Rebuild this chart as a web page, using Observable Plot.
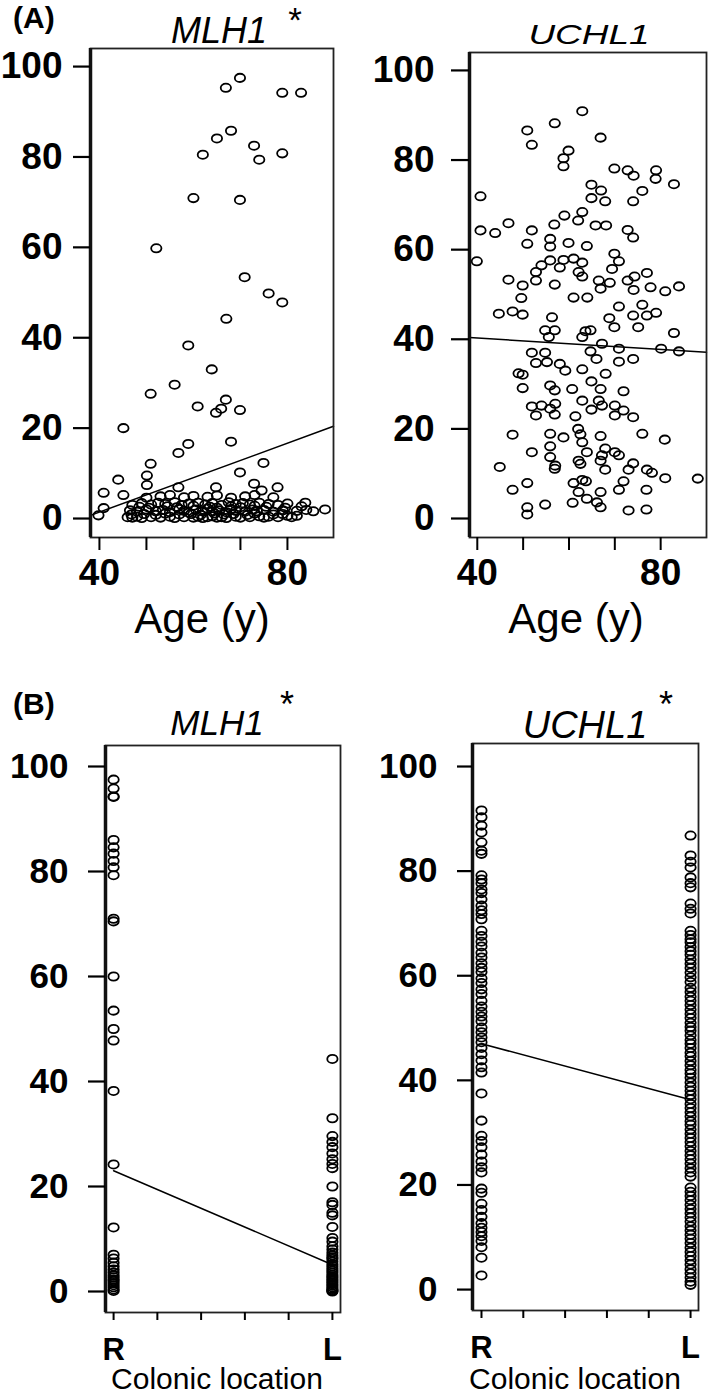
<!DOCTYPE html>
<html>
<head>
<meta charset="utf-8">
<script src="https://cdn.jsdelivr.net/npm/d3@7"></script>
<script src="https://cdn.jsdelivr.net/npm/@observablehq/plot@0.6"></script>
<style>
  html, body { margin: 0; padding: 0; background: #fff; }
  #wrap { position: relative; width: 709px; height: 1395px; background: #fff; overflow: hidden; font-family: "Liberation Sans", Arial, sans-serif; }
  .panel { position: absolute; }
  #overlay { position: absolute; left: 0; top: 0; pointer-events: none; }
</style>
</head>
<body>
<div id="wrap">
  <div class="panel" id="pA1" style="left:0;top:0"></div>
  <div class="panel" id="pA2" style="left:354px;top:0"></div>
  <div class="panel" id="pB1" style="left:0;top:700px"></div>
  <div class="panel" id="pB2" style="left:354px;top:700px"></div>
  <svg id="overlay" width="709" height="1395" font-family="Liberation Sans, Arial, sans-serif" fill="#000">
    <text x="13" y="28" font-size="30" font-weight="bold">(A)</text>
    <text x="219" y="43" font-size="36" font-style="italic" text-anchor="middle">MLH1</text>
    <text x="295" y="32" font-size="35" text-anchor="middle">*</text>
    <text transform="translate(589,44) scale(1.32,1)" font-size="28" font-style="italic" text-anchor="middle">UCHL1</text>
    <text x="202" y="633" font-size="42" text-anchor="middle">Age (y)</text>
    <text x="576" y="633" font-size="42" text-anchor="middle">Age (y)</text>
    <text x="13" y="714" font-size="30" font-weight="bold">(B)</text>
    <text x="217" y="735" font-size="35" font-style="italic" text-anchor="middle">MLH1</text>
    <text x="287" y="717" font-size="36" text-anchor="middle">*</text>
    <text x="585" y="738" font-size="38" font-style="italic" text-anchor="middle">UCHL1</text>
    <text x="666" y="717" font-size="36" text-anchor="middle">*</text>
    <text x="217" y="1389" font-size="30" text-anchor="middle">Colonic location</text>
    <text x="575" y="1389" font-size="30" text-anchor="middle">Colonic location</text>
  </svg>
</div>
<script>
// ---------- DATA ----------
// (A) MLH1 methylation (%) vs age (y): [age, value]
const mlh1VsAge = [
  [69.9,97.5],[66.9,95.3],[78.9,94.2],[82.9,94.2],[68.0,85.8],[65.0,84.1],[72.9,82.5],[62.0,80.5],
  [74.0,79.4],[78.9,80.8],[60.0,70.9],[69.9,70.5],[52.1,59.8],[70.9,53.4],[76.0,49.8],[78.9,47.8],
  [67.0,44.2],[58.9,38.3],[63.9,33.0],[56.0,29.6],[50.9,27.6],[66.9,26.3],[60.9,24.8],[65.9,24.3],
  [64.8,23.4],[69.9,24.0],[45.1,20.0],[58.9,16.5],[56.8,14.5],[68.0,17.0],[50.9,12.1],[74.9,12.3],
  [50.1,9.5],[50.1,7.4],[69.9,10.2],[44.0,8.6],[40.9,5.7],[45.1,5.2],[40.9,2.3],[39.8,0.7],
  [56.8,6.9],[64.8,6.9],[72.9,7.7],[77.9,6.9],[74.5,6.2],[88.0,2.0],[83.8,3.5],[80.9,0.3],
  [46,0.3],[47,0.2],[48,0.4],[49,0.1],[51,0.3],[53,0.2],[55,0.4],[56,0.1],[58,0.3],[60,0.2],
  [61,0.4],[62,0.1],[63,0.3],[64,0.5],[65,0.2],[66,0.3],[67,0.1],[69,0.4],[70,0.2],[72,0.3],
  [74,0.5],[75,0.2],[76,0.4],[78,0.3],[80,0.6],
  [46.8,0.9],[49.5,1.0],[52,0.8],[54,1.1],[57,0.9],[59.5,1.0],[61.5,0.8],[64.5,1.1],[66.5,0.9],
  [68.5,1.0],[71.5,0.8],[73,1.1],[77,0.9],[79,1.0],[82,0.6],
  [46.5,1.8],[48,1.5],[50,2.0],[52,1.6],[53.5,1.9],[55,1.4],[57,2.1],[58,1.7],[59,1.3],[60.5,2.0],
  [62,1.6],[63,2.2],[64,1.5],[65.5,1.8],[67,1.4],[68,2.1],[69,1.7],[71,1.5],[72.5,2.0],[73.5,1.6],
  [75,1.9],[77,1.5],[79,1.8],[82,1.7],[84,1.9],[85.5,1.6],
  [48.5,2.6],[50.5,2.4],[54.5,2.7],[56.5,2.5],[60,2.8],[63.5,2.6],[65,2.4],[68,2.7],[70,2.5],
  [73,2.8],[75.5,2.6],[79.5,2.4],[83,2.7],
  [47,3.0],[49,3.4],[51,3.1],[52.5,3.5],[54,3.2],[56,3.6],[57.5,3.0],[59,3.3],[61,3.5],[62.5,3.1],
  [64,3.4],[66,3.0],[67.5,3.6],[69,3.2],[70.5,3.4],[72,3.1],[74,3.5],[76,3.2],[78,3.0],[80,3.3],
  [50,4.6],[53,4.9],[55,5.2],[58,4.7],[60,5.0],[63,4.8],[65,5.1],[68,4.6],[71,4.9],[73,5.2],[77,4.7]
];
// (A) UCHL1 methylation (%) vs age (y): [age, value]
const uchl1VsAge = [
  [62.9,90.9],[56.9,88.2],[50.9,86.6],[51.9,83.4],[66.9,85.0],[59.9,82.1],[58.8,80.4],[58.8,78.6],
  [69.9,78.1],[72.8,77.7],[74.1,76.5],[79.0,77.7],[78.9,75.8],[82.9,74.6],[40.7,71.9],[64.9,74.5],
  [67.0,73.2],[76.0,73.1],[64.9,71.5],[67.9,70.8],[74.0,70.8],[62.9,68.4],[59.0,67.6],[62.0,66.5],
  [56.8,65.6],[65.8,65.4],[68.1,65.4],[72.8,64.4],[74.0,62.7],[40.7,64.3],[43.9,63.7],[46.8,65.9],
  [51.9,64.3],[50.9,61.3],[55.9,62.4],[55.9,60.7],[59.9,61.5],[63.9,60.8],[39.9,57.4],[69.9,59.1],
  [70.9,57.4],[69.4,55.7],[55.9,57.6],[58.8,57.7],[61.0,58.0],[62.9,57.1],[54.0,56.5],[58.0,56.0],
  [52.8,55.0],[62.1,55.0],[62.9,54.0],[46.8,53.3],[49.9,52.0],[52.8,53.1],[56.9,52.2],[66.5,53.1],
  [68.9,52.6],[66.9,51.3],[72.8,53.1],[74.3,54.0],[77.0,54.8],[74.1,51.0],[77.8,51.6],[81.0,50.7],
  [84.0,51.8],[49.6,49.2],[61.0,49.3],[64.0,49.3],
  [44.7,45.7],[47.7,46.2],[49.9,45.5],[56.3,44.9],[54.8,42.0],[56.9,42.0],[55.6,40.5],[63.6,41.8],
  [64.7,42.0],[62.9,40.5],[68.8,44.7],[70.9,47.3],[69.9,42.7],[74.0,45.3],[76.0,47.7],[77.0,45.3],
  [79.0,45.9],[75.1,42.7],[82.9,41.4],[67.2,39.0],[70.9,37.9],[80.1,37.9],[84.0,37.3],[51.9,37.0],
  [54.8,37.0],[64.7,37.3],[52.8,34.7],[55.2,34.9],[58.0,34.5],[66.0,35.6],[70.9,35.0],[74.0,35.6],
  [49.0,32.4],[49.9,32.1],[59.2,33.0],[62.9,33.3],[68.0,32.3],[49.9,29.1],[55.9,29.7],[56.9,28.6],
  [60.7,28.9],[64.9,30.6],[66.9,28.9],[71.9,28.4],[51.9,25.0],[54.0,25.2],[55.9,24.5],[57.0,25.6],
  [52.8,23.0],[56.9,23.2],[62.9,26.3],[64.9,24.3],[66.5,26.3],[67.2,25.2],[70.0,25.2],[70.0,23.0],
  [71.9,24.1],[74.0,22.6],[61.4,22.8],[62.0,20.0],[62.5,18.8],[47.7,18.7],[55.9,18.9],[58.8,18.1],
  [66.9,18.4],[76.0,18.9],[80.9,17.6],[62.9,17.0],[51.9,14.8],[55.9,16.1],[63.9,14.8],[67.9,15.6],
  [70.0,14.8],[67.2,14.1],[70.9,14.1],[55.9,13.7],[57.0,11.8],[56.9,11.1],[62.1,12.9],[62.5,12.2],
  [66.9,12.9],[67.9,10.9],[74.0,12.3],[73.0,10.9],[77.0,10.9],[78.1,10.2],[81.0,9.0],[88.1,8.9],
  [44.9,11.5],[50.9,7.9],[47.7,6.4],[61.0,7.9],[62.9,8.6],[63.7,8.3],[62.1,5.9],[66.9,5.9],
  [71.9,8.3],[70.9,6.4],[76.9,6.4],[63.9,4.4],[66.1,3.6],[66.9,2.5],[60.8,3.5],[54.8,3.1],
  [50.9,2.5],[50.9,0.9],[73.0,1.8],[76.9,2.0]
];
// (B) values by colonic location
const mlh1Right = [97.5,95.8,94.3,94.2,86,84.6,83.4,82,80.8,79.3,71,70.5,60,53.5,50,47.8,38.2,24.2,12.2,
  7,6.3,5.5,4.8,4.2,3.6,3.1,2.7,2.3,2,1.6,1.2,0.8,0.4,0.1];
const mlh1Left = [44.3,33,29.6,28.5,27.5,26.3,25.2,24.3,23.5,20,17,16.5,15,14.5,12.3,10.2,9.5,8.6,8,7.4,
  6.9,6.5,6.2,5.7,5.2,4.8,4.4,4,3.6,3.2,2.9,2.6,2.3,2,1.7,1.4,1.1,0.8,0.5,0.3,0.1,0];
const uchl1Right = [91.6,90.3,88.7,87.4,85.5,83.9,83.3,79.2,78.4,77.7,76.5,75.8,74.6,73.4,72.5,71.8,70.8,
  68.6,67.6,66.5,65.6,64.4,63.5,62.4,61.5,60.7,59.5,58.6,57.4,56.5,55.2,54.1,53.1,52.2,51.3,50.1,49.2,
  48.2,47.3,46.2,45.0,43.8,42.5,41.5,37.5,32.3,29.4,28.4,27.2,25.8,24.5,23.4,22.4,19.3,18.5,16.4,15.2,
  13.9,12.7,11.8,11,10.2,9.3,8.1,6.1,2.7];
const uchl1Left = [86.8,83,81.8,80.7,78.8,77.7,76.9,73.8,72.8,71.9,68.6,67.8,67,66.4,65.5,64.7,64.0,63.1,
  62.3,61.5,60.6,59.7,58.8,57.7,56.9,56.0,55.2,54.4,53.5,52.7,51.9,51.0,50.2,49.5,48.6,47.7,47.0,46.2,
  45.3,44.6,43.7,42.9,42.0,41.3,40.5,39.6,38.8,38.0,37.2,36.4,35.5,34.7,33.9,33.1,32.2,31.5,30.6,29.8,
  29.0,28.2,27.4,26.5,25.7,24.9,24.1,23.2,22.4,21.6,19.5,18.7,17.9,17.1,16.2,15.4,14.6,13.8,13.0,12.1,
  11.3,10.5,9.7,8.9,8.0,7.2,6.4,5.6,4.8,3.9,3.1,2.3,1.5,0.9];
// regression lines (endpoints in data units)
const fitMLH1Age = [[38.1,0.7],[89.8,20.4]];
const fitUCHL1Age = [[38.3,40.4],[90.0,37.1]];
const fitMLH1Loc = [["R",23.0],["L",5.1]];
const fitUCHL1Loc = [["R",47.0],["L",36.3]];
// ticks
const yTicks = [0,20,40,60,80,100];
const ageTicks = [40,50,60,70,80];
const ageTickLabels = new Map([[40,"40"],[80,"80"]]);
const locations = ["R","L"];
const locTicks = [0,0.2,0.4,0.6,0.8,1];

// ---------- DRAWING ----------
const locPos = new Map(locations.map((l,i) => [l, i]));
const ellipse = {
  draw(ctx, size) {
    const r = Math.sqrt(size / Math.PI);
    const rx = r * 1.12, ry = r * 0.9, k = 0.5523;
    const kx = k * rx, ky = k * ry;
    ctx.moveTo(rx, 0);
    ctx.bezierCurveTo(rx, ky, kx, ry, 0, ry);
    ctx.bezierCurveTo(-kx, ry, -rx, ky, -rx, 0);
    ctx.bezierCurveTo(-rx, -ky, -kx, -ry, 0, -ry);
    ctx.bezierCurveTo(kx, -ry, rx, -ky, rx, 0);
    ctx.closePath();
  }
};

function panel(o) {
  return Plot.plot({
    width: o.width, height: o.height,
    marginLeft: o.ml, marginRight: o.mr, marginTop: o.mt, marginBottom: o.mb,
    x: {domain: o.xDomain}, y: {domain: o.yDomain},
    style: {background: "transparent", fontFamily: "Liberation Sans, Arial, sans-serif", overflow: "visible", color: "#000"},
    marks: [
      Plot.dot(o.points, {x: o.x, y: o.y, r: 4.6, symbol: ellipse, stroke: "#000", strokeWidth: 1.8, fill: "none"}),
      Plot.line(o.fit, {x: o.fx, y: d => d[1], stroke: "#000", strokeWidth: 1.5}),
      Plot.frame({stroke: "#222", strokeWidth: 1.8}),
      Plot.ruleX([o.xDomain[0]], {stroke: "#111", strokeWidth: 3.5}),
      Plot.axisY({ticks: yTicks, tickSize: o.yts, tickPadding: o.ytp, fontSize: o.yfs, fontWeight: "bold", strokeWidth: 2.2, label: null}),
      Plot.axisX({ticks: o.xTicks, tickFormat: o.xFormat, tickSize: o.xts, tickPadding: o.xtp, fontSize: o.xfs, fontWeight: "bold", strokeWidth: 2, label: null})
    ]
  });
}

const ageFormat = d => ageTickLabels.get(d) ?? "";
const locFormat = d => d === 0 ? locations[0] : d === 1 ? locations[1] : "";

document.getElementById("pA1").append(panel({
  width: 354, height: 600, ml: 90, mr: 21, mt: 48, mb: 63,
  xDomain: [38.1, 89.8], yDomain: [-4.2, 104],
  points: mlh1VsAge, x: d => d[0], y: d => d[1],
  fit: fitMLH1Age, fx: d => d[0],
  yts: 17, ytp: 11, yfs: 37, xTicks: ageTicks, xFormat: ageFormat, xts: 13, xtp: 8, xfs: 37
}));
document.getElementById("pA2").append(panel({
  width: 355, height: 600, ml: 115, mr: 3, mt: 52, mb: 63,
  xDomain: [38.3, 90], yDomain: [-4.24, 104],
  points: uchl1VsAge, x: d => d[0], y: d => d[1],
  fit: fitUCHL1Age, fx: d => d[0],
  yts: 18, ytp: 17, yfs: 37, xTicks: ageTicks, xFormat: ageFormat, xts: 13, xtp: 8, xfs: 37
}));
const mlh1Loc = [...mlh1Right.map(v => ["R", v]), ...mlh1Left.map(v => ["L", v])];
const uchl1Loc = [...uchl1Right.map(v => ["R", v]), ...uchl1Left.map(v => ["L", v])];
document.getElementById("pB1").append(panel({
  width: 354, height: 665, ml: 105, mr: 14, mt: 45, mb: 53,
  xDomain: [-0.037, 1.037], yDomain: [-4, 104],
  points: mlh1Loc, x: d => locPos.get(d[0]), y: d => d[1],
  fit: fitMLH1Loc, fx: d => locPos.get(d[0]),
  yts: 17, ytp: 20, yfs: 35, xTicks: locTicks, xFormat: locFormat, xts: 8, xtp: 17, xfs: 31
}));
document.getElementById("pB2").append(panel({
  width: 355, height: 665, ml: 118, mr: 11, mt: 43, mb: 55,
  xDomain: [-0.043, 1.038], yDomain: [-4.0, 104.4],
  points: uchl1Loc, x: d => locPos.get(d[0]), y: d => d[1],
  fit: fitUCHL1Loc, fx: d => locPos.get(d[0]),
  yts: 15, ytp: 20, yfs: 35, xTicks: locTicks, xFormat: locFormat, xts: 8, xtp: 17, xfs: 31
}));
</script>
</body>
</html>
